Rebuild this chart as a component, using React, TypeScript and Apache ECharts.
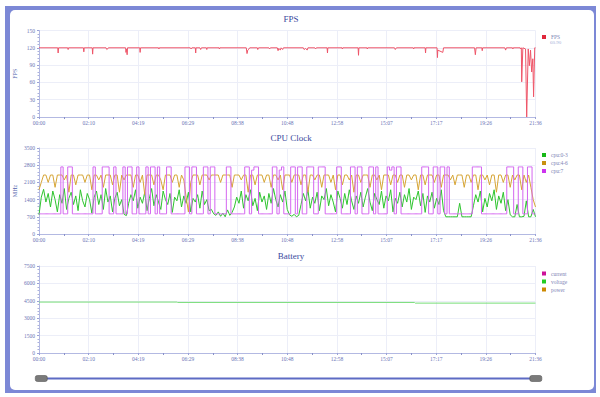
import React, { useEffect, useRef } from 'react';
import * as echarts from 'echarts';

// total session length in seconds (21:36)
const TOTAL_SECONDS = 1296;
const X_TICK_COUNT = 10;

// ---------- FPS ----------
const FPS_TIME = [
  0, 49, 50, 51, 75, 76, 77, 116, 117, 118, 139, 140, 141, 175, 177, 179, 181,
  226, 227, 229, 230, 231, 263, 264, 265, 312, 313, 314, 395, 397, 399, 408, 409, 410,
  420, 422, 424, 437, 438, 439, 470, 471, 472, 541, 543, 545, 548, 550, 570, 571, 573,
  600, 602, 604, 622, 624, 626, 630, 632, 636, 638, 690, 692, 696, 700, 702, 720, 722, 724,
  752, 753, 754, 791, 792, 793, 833, 834, 835, 856, 857, 858, 928, 930, 933, 977, 978, 979,
  1008, 1009, 1010, 1039, 1040, 1041, 1054, 1056, 1137, 1139, 1141, 1156, 1157, 1158,
  1216, 1218, 1220, 1236, 1237, 1238, 1256, 1257, 1259, 1260, 1263, 1270, 1273, 1277,
  1280, 1283, 1286, 1289, 1291, 1294, 1296,
];
const FPS_VALUE = [
  120, 120, 111, 120, 120, 117, 120, 120, 113, 120, 120, 109, 120, 120, 117, 118, 120,
  120, 112, 118, 108, 120, 120, 112, 120, 120, 118, 120, 120, 118, 120, 120, 111, 120,
  120, 117, 120, 120, 117, 120, 120, 118, 120, 120, 110, 116, 118, 120, 120, 117, 120,
  120, 118, 120, 120, 115, 119, 116, 120, 117, 120, 120, 117, 119, 116, 120, 120, 118, 120,
  120, 111, 120, 120, 118, 120, 120, 107, 120, 120, 118, 120, 120, 117, 120, 120, 118, 120,
  120, 111, 120, 120, 103, 116, 112, 120, 120, 108, 120, 120, 115, 120,
  120, 116, 120, 120, 118, 120, 120, 118, 120, 61, 120, 118, 0, 118,
  89, 116, 78, 101, 35, 120, 120,
];
const FPS_AVERAGE_TEXT = '60.90';

// ---------- CPU clock (MHz), one sample every 6 s ----------
const CPU_STEP = 6;
const CPU_0_3 = [
  780, 1500, 1820, 1300, 1650, 1100, 1750, 1400, 900, 1600, 1250, 1850, 1000, 1450, 1700, 1200, 1550, 950, 1800, 1350,
  1100, 1650, 1400, 850, 1500, 1750, 1200, 1600, 1000, 1850, 1300, 1550, 900, 1450, 1700, 1150, 1400, 800, 750, 1250,
  1600, 1350, 1800, 1050, 1500, 1250, 1700, 950, 1450, 1850, 1150, 1600, 1300, 1000, 1750, 1400, 1200, 1650, 880, 1500,
  1350, 1800, 1100, 1550, 1250, 1700, 900, 1450, 1300, 1600, 1050, 1750, 1200, 1400, 950, 1000, 820, 760, 900, 720,
  850, 700, 980, 760, 880, 1100, 1500, 1250, 1750, 1050, 1600, 1350, 1800, 1150, 1450, 950, 1700, 1300, 1550, 1000,
  1650, 1250, 1850, 1400, 1100, 1600, 1300, 1750, 1000, 780, 720, 800, 700, 760, 1200, 1650, 1350, 1800, 1050, 1500,
  1250, 1700, 950, 1550, 1400, 1850, 1150, 1600, 1300, 900, 1750, 1450, 1050, 1650, 1200, 1800, 1350, 1000, 1550, 1250,
  1700, 1100, 1500, 1850, 1300, 950, 1650, 1400, 1200, 1750, 1050, 1550, 1350, 1800, 900, 1450, 1250, 1700, 1100, 1600,
  1300, 1850, 1000, 1500, 1400, 1750, 1150, 1650, 880, 1550, 1300, 1700, 1050, 1450, 1200, 1800, 950, 700, 700, 700,
  700, 700, 700, 1250, 700, 700, 700, 700, 700, 1150, 1600, 1300, 1750, 900, 1450, 1100, 1650, 1350, 1800, 1000,
  1550, 1250, 1700, 950, 1400, 780, 700, 700, 1200, 700, 700, 720, 1350, 700, 700, 1000, 700,
];
const CPU_4_6 = [
  1800, 2100, 2400, 2400, 2100, 2400, 2400, 1900, 2400, 2400, 2400, 2200, 2400, 1700, 2400, 2400, 2000, 2400, 2400, 2400,
  2100, 2400, 2400, 1800, 2400, 2400, 2200, 2400, 1900, 2400, 2400, 2400, 2000, 2400, 2400, 1700, 2400, 2200, 2400, 2400,
  2400, 1900, 2400, 2400, 2100, 2400, 1600, 2400, 2400, 2400, 2000, 2400, 2400, 2200, 1800, 2400, 2400, 2400, 2100, 2400,
  2400, 1900, 2400, 2200, 1500, 900, 2100, 2400, 2400, 2400, 2000, 2400, 2400, 2400, 2200, 2400, 2400, 2400, 2400, 2100,
  2400, 2400, 2400, 2400, 1900, 2400, 2400, 2400, 2200, 2400, 2400, 1700, 2400, 2400, 2000, 2400, 2400, 2400, 2100, 2400,
  2400, 1900, 2400, 2400, 2200, 2400, 1800, 2400, 2400, 2400, 2100, 2400, 2400, 2400, 2000, 2400, 2400, 1700, 2400, 2400,
  2200, 2400, 2400, 1900, 2400, 2400, 2400, 2100, 2400, 1800, 2400, 2400, 2000, 2400, 2400, 2200, 2400, 1700, 2400, 2400,
  2100, 2400, 2400, 2400, 1900, 2400, 2400, 2200, 2400, 1800, 2400, 2400, 2400, 2000, 2400, 2400, 2100, 2400, 2400, 1900,
  2400, 2400, 2200, 2400, 2400, 1800, 2400, 2400, 2000, 2400, 2400, 2400, 2100, 2400, 2400, 1900, 2400, 2400, 2400, 2200,
  2400, 2000, 2400, 2400, 2400, 1900, 2400, 2400, 2100, 2400, 2400, 1800, 2400, 2400, 2200, 2400, 2000, 2400, 2400, 1700,
  2400, 2400, 2100, 2400, 2400, 1900, 2400, 2200, 2400, 2400, 1800, 2400, 2100, 2400, 1900, 1400, 1100,
];
const CPU_7 = [
  820, 820, 820, 820, 820, 820, 820, 820, 820, 820, 2730, 820, 820, 2730, 2730, 820, 820, 820, 820, 820,
  820, 820, 820, 820, 2730, 820, 820, 820, 2730, 2730, 2730, 820, 820, 2730, 820, 820, 820, 2730, 820, 2730,
  2730, 820, 820, 2730, 820, 820, 820, 2730, 820, 2730, 2730, 820, 2730, 820, 820, 820, 2730, 2730, 820, 820,
  820, 820, 820, 820, 2730, 2730, 820, 2730, 2730, 820, 820, 820, 2730, 2730, 820, 2730, 2730, 820, 820, 820,
  820, 820, 2730, 2730, 820, 820, 820, 820, 820, 820, 2730, 2730, 820, 2600, 2730, 2730, 820, 820, 820, 820,
  820, 820, 2730, 2730, 820, 2600, 2730, 820, 820, 820, 2730, 2730, 820, 2730, 2730, 820, 820, 2730, 2730, 2730,
  820, 820, 2730, 2730, 2730, 820, 820, 820, 820, 820, 2730, 2730, 820, 820, 820, 820, 2730, 2730, 820, 2730,
  2730, 820, 820, 820, 2730, 2730, 820, 2730, 820, 820, 820, 820, 2730, 2600, 2730, 820, 2730, 2730, 820, 820,
  820, 820, 820, 820, 820, 820, 820, 2730, 2730, 2730, 820, 820, 2730, 2730, 820, 2730, 2730, 820, 2730, 820,
  820, 820, 820, 820, 820, 820, 820, 820, 820, 2730, 2730, 2730, 2730, 820, 820, 820, 820, 820, 820, 820,
  820, 820, 820, 820, 2730, 2730, 2730, 820, 820, 2730, 2730, 820, 820, 2730, 2730, 820, 820,
];

// ---------- Battery ----------
const VOLTAGE_TIME = [0, 360, 362, 980, 982, 1296];
const VOLTAGE_VALUE = [4390, 4390, 4360, 4360, 4300, 4300];
const CURRENT_VALUE: number[][] = [];
const POWER_VALUE: number[][] = [];

// ---------- styling ----------
const FONT = 'Liberation Serif';
const LABEL_COLOR = '#6c76b6';
const AXIS_LINE = '#b3b9e2';
const SPLIT = '#eceef8';
const TITLE_COLOR = '#3a4a9e';

function fmtTime(v: number) {
  const s = Math.round(v);
  const m = Math.floor(s / 60);
  const ss = s % 60;
  return String(m).padStart(2, '0') + ':' + String(ss).padStart(2, '0');
}

const GRID_LEFT = 39;
const GRID_RIGHT = 64.5;
const grids = [
  { top: 30.5, height: 86.5 },
  { top: 148, height: 86 },
  { top: 266, height: 87 },
];

function xAxis(gridIndex: number) {
  return {
    type: 'value',
    gridIndex,
    min: 0,
    max: TOTAL_SECONDS,
    interval: TOTAL_SECONDS / X_TICK_COUNT,
    axisLine: { show: true, lineStyle: { color: AXIS_LINE, width: 1 } },
    axisTick: { show: true, length: 2, lineStyle: { color: '#9aa2d6' } },
    minorTick: { show: true, splitNumber: 2, length: 2, lineStyle: { color: '#8890c8' } },
    axisLabel: { fontSize: 5.5, color: LABEL_COLOR, margin: 3, fontFamily: FONT, formatter: fmtTime },
    splitLine: { show: true, lineStyle: { color: SPLIT, width: 1 } },
  };
}

function yAxis(gridIndex: number, max: number, interval: number, name: string) {
  return {
    type: 'value',
    gridIndex,
    min: 0,
    max,
    interval,
    name,
    nameLocation: 'middle',
    nameGap: 21,
    nameMoveOverlap: false,
    nameTextStyle: { fontSize: 6, color: '#5565ae', fontFamily: FONT },
    axisLine: { show: true, lineStyle: { color: AXIS_LINE, width: 1 } },
    axisTick: { show: true, length: 2, lineStyle: { color: '#9aa2d6' } },
    minorTick: { show: true, splitNumber: 5, length: 1.5, lineStyle: { color: '#aab0dc' } },
    axisLabel: {
      fontSize: 5.5,
      color: LABEL_COLOR,
      margin: 4,
      fontFamily: FONT,
      formatter: (v: number) => String(v),
    },
    splitLine: { show: true, lineStyle: { color: SPLIT, width: 1 } },
  };
}

const legendBase = {
  orient: 'vertical',
  left: 542,
  itemWidth: 4,
  itemHeight: 4,
  itemGap: 2,
  padding: 0,
  icon: 'rect',
  textStyle: { fontSize: 5.5, color: '#7d84b5', fontFamily: FONT },
  selectedMode: false,
};

function lineSeries(name: string, xi: number, data: number[][], icon: string, line: string, step?: string) {
  return {
    name,
    type: 'line',
    xAxisIndex: xi,
    yAxisIndex: xi,
    data,
    step: step || false,
    showSymbol: false,
    symbol: 'none',
    silent: true,
    itemStyle: { color: icon },
    lineStyle: { color: line, width: 1 },
  };
}

const fpsData = FPS_TIME.map((t, i) => [t, FPS_VALUE[i]]);
const cpu03 = CPU_0_3.map((v, i) => [i * CPU_STEP, v]);
const cpu46 = CPU_4_6.map((v, i) => [i * CPU_STEP, v]);
const cpu7 = CPU_7.map((v, i) => [i * CPU_STEP, v]);
const voltData = VOLTAGE_TIME.map((t, i) => [t, VOLTAGE_VALUE[i]]);

const titleStyle = { fontSize: 9, color: TITLE_COLOR, fontFamily: FONT, fontWeight: 'normal' };

const option: any = {
  animation: false,
  backgroundColor: 'transparent',
  title: [
    { text: 'FPS', left: 291, top: 14, textAlign: 'center', padding: 0, textStyle: titleStyle },
    { text: 'CPU Clock', left: 291, top: 133, textAlign: 'center', padding: 0, textStyle: titleStyle },
    { text: 'Battery', left: 291, top: 251, textAlign: 'center', padding: 0, textStyle: titleStyle },
  ],
  grid: grids.map((g) => ({ left: GRID_LEFT, right: GRID_RIGHT, top: g.top, height: g.height, containLabel: false, outerBoundsMode: 'none' })),
  xAxis: [xAxis(0), xAxis(1), xAxis(2)],
  yAxis: [
    yAxis(0, 150, 30, 'FPS'),
    yAxis(1, 3500, 700, 'MHz'),
    yAxis(2, 7500, 1500, ''),
  ],
  legend: [
    { ...legendBase, top: 34, data: ['FPS'] },
    { ...legendBase, top: 152, data: ['cpu:0-3', 'cpu:4-6', 'cpu:7'] },
    { ...legendBase, top: 270.5, data: ['current', 'voltage', 'power'] },
  ],
  graphic: [
    { type: 'text', left: 550, top: 39.5, silent: true, style: { text: FPS_AVERAGE_TEXT, fontSize: 5, fill: '#a8b0d8', fontFamily: FONT } },
  ],
  dataZoom: [
    {
      type: 'slider',
      xAxisIndex: [0, 1, 2],
      start: 0,
      end: 100,
      left: GRID_LEFT,
      right: GRID_RIGHT,
      top: 377.5,
      height: 2,
      backgroundColor: 'rgba(0,0,0,0)',
      borderColor: 'rgba(0,0,0,0)',
      fillerColor: '#5d6bc4',
      handleIcon: 'path://M2,0H10A2,2,0,0,1,12,2V4A2,2,0,0,1,10,6H2A2,2,0,0,1,0,4V2A2,2,0,0,1,2,0Z',
      handleSize: 12,
      handleStyle: { color: '#7a7a7a', borderColor: '#555', borderWidth: 0.6 },
      showDetail: false,
      showDataShadow: false,
      brushSelect: false,
      moveHandleSize: 0,
      dataBackground: { lineStyle: { opacity: 0 }, areaStyle: { opacity: 0 } },
      selectedDataBackground: { lineStyle: { opacity: 0 }, areaStyle: { opacity: 0 } },
      emphasis: { handleStyle: { color: '#7a7a7a', borderColor: '#555', borderWidth: 0.6 } },
    },
  ],
  series: [
    lineSeries('FPS', 0, fpsData, '#e0283c', '#ee5568'),
    lineSeries('cpu:0-3', 1, cpu03, '#17b817', '#2fc42f'),
    lineSeries('cpu:4-6', 1, cpu46, '#c8900f', '#d6a535'),
    lineSeries('cpu:7', 1, cpu7, '#cc33ee', '#d466f0', 'middle'),
    lineSeries('current', 2, CURRENT_VALUE, '#cc1199', '#cc1199'),
    lineSeries('voltage', 2, voltData, '#22cc22', '#77dd77'),
    lineSeries('power', 2, POWER_VALUE, '#cc8800', '#cc8800'),
  ],
};

export default function App() {
  const ref = useRef<HTMLDivElement>(null);
  useEffect(() => {
    const chart = echarts.init(ref.current!, null, { renderer: 'svg' });
    chart.setOption(option);
    return () => chart.dispose();
  }, []);
  return (
    <div style={{ position: 'fixed', left: 0, top: 0, width: 600, height: 397, background: '#fff', overflow: 'hidden' }}>
      <div style={{ position: 'absolute', left: 5, top: 6, width: 591, height: 387, background: '#7c88d6' }} />
      <div style={{ position: 'absolute', left: 10, top: 10, width: 584, height: 380, background: '#fff', borderRadius: 5 }} />
      <div ref={ref} style={{ position: 'absolute', left: 0, top: 0, width: 600, height: 397 }} />
    </div>
  );
}
